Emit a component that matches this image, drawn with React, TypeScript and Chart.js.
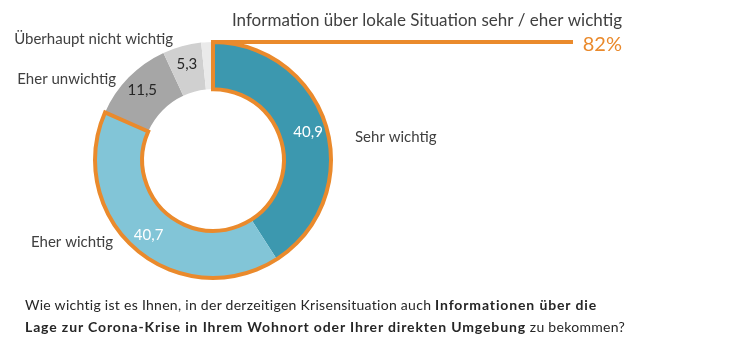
import React, { useEffect, useRef } from "react";
import { Chart, registerables } from "chart.js";
Chart.register(...registerables);

const categories = ["Sehr wichtig", "Eher wichtig", "Eher unwichtig", "Überhaupt nicht wichtig", "Keine Angabe"];
const values = [40.9, 40.7, 11.5, 5.3, 1.6];
const valueLabels = ["40,9", "40,7", "11,5", "5,3", ""];
const showCategory = [true, true, true, true, false];
const colors = ["#3C98AF", "#82C5D7", "#A6A6A6", "#D0D0D0", "#EAEAEA"];
const valueColors = ["#FFFFFF", "#FFFFFF", "#262626", "#262626", "#262626"];
const highlightTitle = "Information über lokale Situation sehr / eher wichtig";
const highlightValue = "82%";
const highlightSegments = [0, 1];

const ORANGE = "#EA8A2C";
const TEXT = "#404040";
const FONT = "Lato, 'Open Sans', sans-serif";

// label anchors relative to doughnut centre (layout only)
const catOffsets = [
  { dx: 142, dy: -23, align: "left" },
  { dx: -100, dy: 82, align: "right" },
  { dx: -97, dy: -81, align: "right" },
  { dx: -40, dy: -121, align: "right" },
  { dx: 0, dy: 0, align: "left" },
];

const overlayPlugin = {
  id: "overlay",
  afterDatasetsDraw(chart: any) {
    const ctx = chart.ctx;
    const meta = chart.getDatasetMeta(0);
    const arcs = meta.data;
    const a0 = arcs[highlightSegments[0]];
    const a1 = arcs[highlightSegments[highlightSegments.length - 1]];
    const { x, y, innerRadius, outerRadius } = a0.getProps(["x", "y", "innerRadius", "outerRadius"], true);
    const start = a0.startAngle;
    const end = a1.endAngle;
    ctx.save();
    ctx.strokeStyle = ORANGE;
    ctx.lineWidth = 4;
    ctx.lineJoin = "miter";
    ctx.beginPath();
    ctx.arc(x, y, outerRadius, start, end, false);
    ctx.arc(x, y, innerRadius, end, start, true);
    ctx.closePath();
    ctx.stroke();
    ctx.beginPath();
    ctx.moveTo(x + outerRadius * Math.cos(start), y + outerRadius * Math.sin(start));
    ctx.lineTo(573, y + outerRadius * Math.sin(start));
    ctx.stroke();
    ctx.fillStyle = TEXT;
    ctx.font = `17px ${FONT}`;
    ctx.textAlign = "right";
    ctx.textBaseline = "alphabetic";
    ctx.fillText(highlightTitle, 622, 26);
    ctx.fillStyle = ORANGE;
    ctx.font = `20px ${FONT}`;
    ctx.fillText(highlightValue, 622, 51);

    ctx.textAlign = "center";
    ctx.textBaseline = "middle";
    ctx.font = `15px ${FONT}`;
    arcs.forEach((arc: any, i: number) => {
      if (!valueLabels[i]) return;
      const mid = (arc.startAngle + arc.endAngle) / 2;
      const r = innerRadius + 0.6 * (outerRadius - innerRadius);
      ctx.fillStyle = valueColors[i];
      ctx.fillText(valueLabels[i], x + r * Math.cos(mid), y + r * Math.sin(mid));
    });
    ctx.font = `15px ${FONT}`;
    ctx.fillStyle = TEXT;
    categories.forEach((c, i) => {
      if (!showCategory[i]) return;
      const o = catOffsets[i];
      ctx.textAlign = o.align;
      ctx.fillText(c, x + o.dx, y + o.dy);
    });
    ctx.restore();
  },
};

export default function App() {
  const ref = useRef<HTMLCanvasElement>(null);
  useEffect(() => {
    if (!ref.current) return;
    const chart = new Chart(ref.current, {
      type: "doughnut",
      data: {
        labels: categories,
        datasets: [
          {
            data: values,
            backgroundColor: colors,
            borderWidth: 0,
          },
        ],
      },
      options: {
        responsive: false,
        animation: false,
        cutout: "60%",
        rotation: 0,
        layout: { padding: { top: 42, bottom: 62, left: 95, right: 399 } },
        plugins: { legend: { display: false }, tooltip: { enabled: false } },
        events: [],
      },
      plugins: [overlayPlugin],
    });
    return () => chart.destroy();
  }, []);
  const reg = { letterSpacing: "0.28px" };
  const bold = { fontWeight: 700, letterSpacing: "0.87px" };
  return (
    <div style={{ position: "fixed", left: 0, top: 0, width: 730, height: 340, background: "#fff" }}>
      <canvas ref={ref} width={730} height={340} style={{ position: "absolute", left: 0, top: 0 }} />
      <div
        style={{
          position: "absolute",
          left: 25,
          top: 294,
          fontFamily: FONT,
          fontSize: 14,
          lineHeight: "22px",
          color: "#262626",
          whiteSpace: "nowrap",
        }}
      >
        <span style={reg}>Wie wichtig ist es Ihnen, in der derzeitigen Krisensituation auch </span>
        <span style={bold}>Informationen über die</span>
        <br />
        <span style={bold}>Lage zur Corona-Krise in Ihrem Wohnort oder Ihrer direkten Umgebung</span>
        <span style={reg}> zu bekommen?</span>
      </div>
    </div>
  );
}
